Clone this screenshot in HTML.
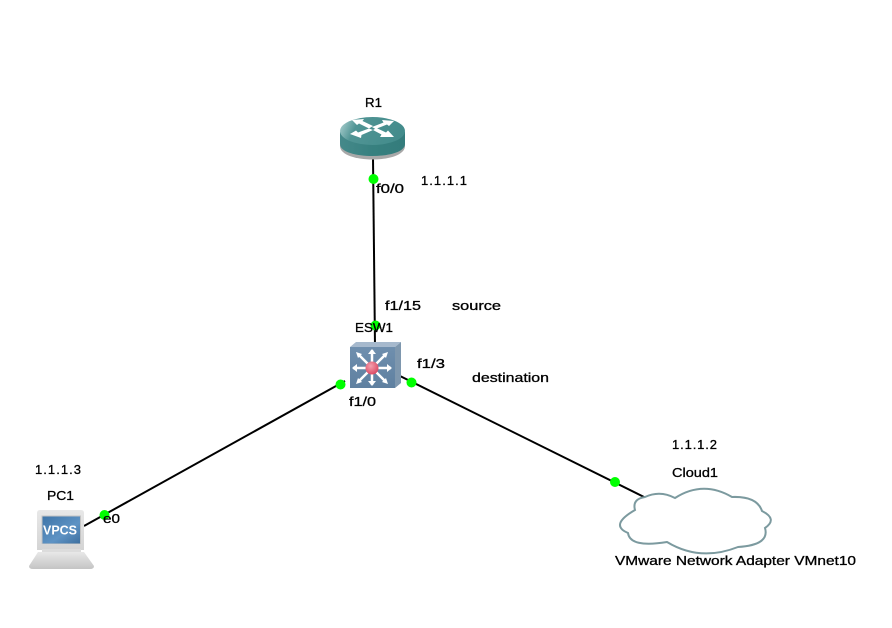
<!DOCTYPE html>
<html>
<head>
<meta charset="utf-8">
<style>
html,body{margin:0;padding:0;background:#fff;width:892px;height:628px;overflow:hidden}
svg{display:block}
text{font-family:"Liberation Sans","DejaVu Sans",sans-serif;font-size:13px;fill:#000;stroke:#000;stroke-width:.3px}
</style>
</head>
<body>
<svg width="892" height="628" viewBox="0 0 892 628" xmlns="http://www.w3.org/2000/svg">
<defs>
<linearGradient id="rtop" x1="0" y1="0" x2="1" y2="0.2"><stop offset="0" stop-color="#b5d6d6"/><stop offset=".3" stop-color="#509494"/><stop offset="1" stop-color="#438c8c"/></linearGradient>
<linearGradient id="rbody" x1="0" y1="0" x2="1" y2="0"><stop offset="0" stop-color="#45898a"/><stop offset=".5" stop-color="#37807f"/><stop offset="1" stop-color="#347c7c"/></linearGradient>
<linearGradient id="sw" x1="0" y1="0" x2="0" y2="1"><stop offset="0" stop-color="#6f8fae"/><stop offset="1" stop-color="#5f80a0"/></linearGradient>
<radialGradient id="red" cx=".4" cy=".35" r=".7"><stop offset="0" stop-color="#f5a0ae"/><stop offset="1" stop-color="#d9445f"/></radialGradient>
<linearGradient id="scr" x1="0" y1="0" x2="1" y2="1"><stop offset="0" stop-color="#3f75a8"/><stop offset=".6" stop-color="#5e93c4"/><stop offset="1" stop-color="#3d6f9f"/></linearGradient>
<linearGradient id="base" x1="0" y1="0" x2="0" y2="1"><stop offset="0" stop-color="#e8e8e8"/><stop offset="1" stop-color="#c4c4c4"/></linearGradient>
<linearGradient id="mon" x1="0" y1="0" x2="0" y2="1"><stop offset="0" stop-color="#e8e8e8"/><stop offset="1" stop-color="#d4d4d4"/></linearGradient>
</defs>

<!-- links -->
<g stroke="#000" stroke-width="2" fill="none">
<line x1="373" y1="158" x2="375" y2="346"/>
<line x1="345" y1="381" x2="84" y2="526"/>
<line x1="400" y1="376" x2="646" y2="498"/>
</g>

<!-- router -->
<g>
<path d="M340,132 V145 C340,163 405,163 405,145 V132 Z" fill="#a8a8a8" transform="translate(0,1)"/>
<path d="M340,132 V144 C340,160 405,160 405,144 V132 Z" fill="url(#rbody)"/>
<ellipse cx="372.5" cy="131" rx="32.5" ry="14" fill="url(#rtop)"/>
<g fill="#fff">
<path d="M352,120 L364,119 L362.5,121 L373,126 L369,128.5 L359,123.5 L357,125 Z"/>
<path d="M394,121 L382,120 L383.5,122.5 L372,127 L375.5,129 L387,124.5 L389,126 Z"/>
<path d="M350,134 L361,138 L361.5,135 L373,130 L369,128.5 L358,132.5 L356,130.5 Z"/>
<path d="M394,137 L380,137 L381.5,134.5 L373,130 L376.5,128 L386,132.5 L388,130.5 Z"/>
</g>
</g>

<!-- switch -->
<g>
<path d="M350,347 L356,342 L401,342 L395,347 Z" fill="#a6b9cd"/>
<path d="M395,347 L401,342 L401,383 L395,388 Z" fill="#7e97ae"/>
<rect x="350" y="347" width="45" height="41" fill="url(#sw)"/>
<g stroke="#fff" stroke-width="2.5" fill="#fff">
<line x1="353" y1="368" x2="391" y2="368"/>
<line x1="372" y1="350" x2="372" y2="385"/>
<line x1="358" y1="354" x2="386" y2="382"/>
<line x1="386" y1="354" x2="358" y2="382"/>
</g>
<g fill="#fff">
<path d="M352,368 L357,364 V372 Z"/><path d="M392,368 L387,364 V372 Z"/>
<path d="M372,349 L368,354 H376 Z"/><path d="M372,386 L368,381 H376 Z"/>
<path d="M356,352 L362,354 L358,358 Z"/><path d="M388,352 L382,354 L386,358 Z"/>
<path d="M356,384 L358,378 L362,382 Z"/><path d="M388,384 L386,378 L382,382 Z"/>
</g>
<circle cx="372" cy="368" r="6.5" fill="url(#red)"/>
</g>

<!-- PC -->
<g>
<path d="M37,550 L84,550 L84,513 Q84,510 81,510 L40,510 Q37,510 37,513 Z" fill="url(#mon)"/>
<rect x="41.500" y="515.500" width="39.500" height="28.500" fill="#c4c4c4"/>
<rect x="42.500" y="516.500" width="37.500" height="27" fill="url(#scr)"/>
<text x="60" y="534.500" text-anchor="middle" style="font-size:13px;font-weight:bold;fill:#fff;stroke:none" textLength="34" lengthAdjust="spacingAndGlyphs">VPCS</text>
<rect x="42" y="549" width="39" height="4" fill="#dcdcdc"/>
<path d="M38,552 L84,552 L94,566 Q94,569 90,569 L33,569 Q29,569 29,566 Z" fill="url(#base)"/>
</g>

<!-- cloud -->
<path d="M645,497 Q660,490 675,498 Q703,480 732,497 Q757,496 762,511 Q778,519 765,528 Q770,545 738,547 Q700,562 667,542 Q630,548 628,533 Q609,525 635,510 Q632,499 645,497 Z" fill="#fff" stroke="#7c9a9f" stroke-width="2"/>

<!-- port dots -->
<g fill="#0f0">
<circle cx="373.500" cy="179" r="5"/>
<circle cx="375.500" cy="325.500" r="5"/>
<circle cx="340.500" cy="384.500" r="5"/>
<circle cx="411.500" cy="382.500" r="5"/>
<circle cx="104.500" cy="515" r="5"/>
<circle cx="615" cy="482" r="5"/>
</g>

<!-- labels -->
<text x="365" y="107" textLength="17" lengthAdjust="spacingAndGlyphs">R1</text>
<text x="421" y="185" textLength="46" lengthAdjust="spacing">1.1.1.1</text>
<text x="376" y="193" textLength="28" lengthAdjust="spacingAndGlyphs">f0/0</text>
<text x="385" y="310" textLength="36" lengthAdjust="spacingAndGlyphs">f1/15</text>
<text x="452" y="310" textLength="49" lengthAdjust="spacingAndGlyphs">source</text>
<text x="355" y="332" textLength="38" lengthAdjust="spacingAndGlyphs">ESW1</text>
<text x="417" y="368" textLength="28" lengthAdjust="spacingAndGlyphs">f1/3</text>
<text x="472" y="382" textLength="77" lengthAdjust="spacingAndGlyphs">destination</text>
<text x="349" y="406" textLength="27" lengthAdjust="spacingAndGlyphs">f1/0</text>
<text x="35" y="474" textLength="46" lengthAdjust="spacing">1.1.1.3</text>
<text x="47" y="500" textLength="27" lengthAdjust="spacingAndGlyphs">PC1</text>
<text x="103" y="523" textLength="17" lengthAdjust="spacingAndGlyphs">e0</text>
<text x="672" y="449" textLength="45" lengthAdjust="spacing">1.1.1.2</text>
<text x="672" y="477" textLength="46" lengthAdjust="spacingAndGlyphs">Cloud1</text>
<text x="615" y="565" textLength="241" lengthAdjust="spacingAndGlyphs">VMware Network Adapter VMnet10</text>
</svg>
</body>
</html>
